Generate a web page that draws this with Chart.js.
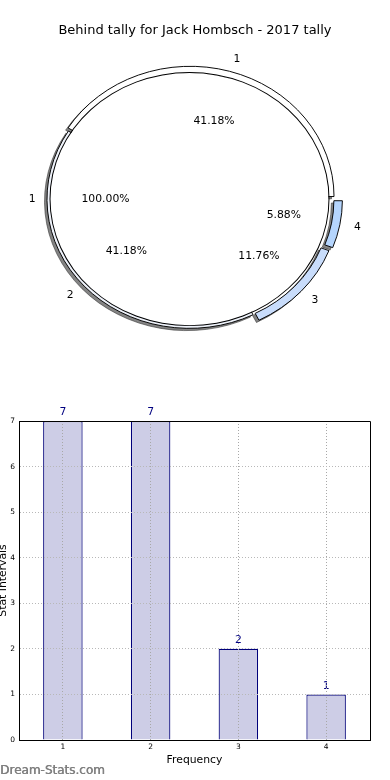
<!DOCTYPE html>
<html>
<head>
<meta charset="utf-8">
<script src="https://cdn.jsdelivr.net/npm/chart.js@4.4.1/dist/chart.umd.min.js"></script>
<style>
  body { margin: 0; background: #fff; }
  #page { position: relative; width: 390px; height: 780px; overflow: hidden; font-family: 'DejaVu Sans'; }
  #title { position: absolute; left: 0; top: 22px; width: 390px; text-align: center; font-size: 13px; line-height: 15px; color: #000; }
  #pieWrap { position: absolute; left: 0; top: 0; width: 390px; height: 370px; }
  #pieWrap canvas { position: absolute; left: 0; top: 0; }
  #barWrap { position: absolute; left: 0; top: 380px; width: 390px; height: 400px; }
  #mark { position: absolute; left: 0; top: 763px; font-size: 12px; line-height: 14px; color: #808080; text-shadow: 0.5px 0 0 #808080; }
</style>
</head>
<body>
<div id="page">
  <div id="pieWrap">
    <canvas id="ring" width="390" height="370"></canvas>
    <canvas id="pie" width="390" height="370"></canvas>
  </div>
  <div id="title">Behind tally for Jack Hombsch - 2017 tally</div>
  <div id="barWrap"><canvas id="bar" width="390" height="400"></canvas></div>
  <div id="mark">Dream-Stats.com</div>
</div>
<script>
// data
const categories = ['1', '2', '3', '4'];
const tallies = [7, 7, 2, 1];
const innerLabels = ['1'];
const innerValues = [17];
const yTicks = [0, 1, 2, 3, 4, 5, 6, 7];

Chart.defaults.font.family = "'DejaVu Sans'";
Chart.defaults.color = '#000';

const SY = 0.907; // the original pie is a bit flattened
const labelFont = "10.8px 'DejaVu Sans'";

// chart.js goes clockwise from 3 o'clock here, the original went the other way
const ringLabels = categories.slice().reverse();
const ringValues = tallies.slice().reverse();

function arcShift(arc) {
  const circ = arc.endAngle - arc.startAngle;
  return (arc.options.offset || 0) / 4 * (2 - Math.sin(Math.min(Math.PI, circ)));
}

function drawText(ctx, text, x, y, align) {
  ctx.save();
  ctx.translate(x, y);
  ctx.scale(1, 1 / SY);
  ctx.font = labelFont;
  ctx.fillStyle = '#000';
  ctx.textAlign = align;
  ctx.textBaseline = 'middle';
  ctx.fillText(text, 0, 0);
  ctx.restore();
}

function labelArcs(ctx, arcs, labels, values, R) {
  const total = values.reduce((a, b) => a + b, 0);
  arcs.forEach((arc, i) => {
    const mid = (arc.startAngle + arc.endAngle) / 2;
    const d = arcShift(arc);
    const c = Math.cos(mid), s = Math.sin(mid);
    const lx = arc.x + (1.1 * R + d) * c;
    const ly = arc.y + (1.1 * R + d) * s;
    drawText(ctx, labels[i], lx, ly, lx > arc.x ? 'left' : 'right');
    const px = arc.x + (0.6 * R + d) * c;
    const py = arc.y + (0.6 * R + d) * s;
    drawText(ctx, (values[i] / total * 100).toFixed(2) + '%', px, py, 'center');
  });
}

// squash the whole drawing vertically
const squash = {
  id: 'squash',
  beforeDraw(chart) { chart.ctx.save(); chart.ctx.scale(1, SY); },
  afterDraw(chart) { chart.ctx.restore(); }
};

// grey copies of the ring pieces, shifted down-left, under the ring
const ringShadow = {
  id: 'ringShadow',
  beforeDatasetsDraw(chart) {
    const ctx = chart.ctx;
    chart.getDatasetMeta(0).data.forEach(arc => {
      const opts = arc.options;
      arc.options = Object.assign({}, opts, { backgroundColor: 'rgba(50,50,50,0.6)', borderColor: 'rgba(50,50,50,0.6)' });
      ctx.save();
      ctx.translate(-2.5, 2.5);
      arc.draw(ctx);
      ctx.restore();
      arc.options = opts;
    });
  }
};

const pieLayout = { padding: { left: 0, right: 11, top: 69, bottom: 0 } };

const ringChart = new Chart(document.getElementById('ring'), {
  type: 'doughnut',
  data: {
    labels: ringLabels,
    datasets: [{
      data: ringValues,
      backgroundColor: ['#b5d5fd', '#c8dcfb', '#eef2fa', '#ffffff'],
      borderColor: '#000',
      borderWidth: 1,
      offset: [25.6, 25.6, 0, 10.85], // exploded pieces
      clip: false
    }]
  },
  options: {
    responsive: false,
    animation: false,
    events: [],
    rotation: 90,
    radius: 142.5,
    cutout: '94.04%',
    layout: pieLayout,
    plugins: { legend: { display: false }, tooltip: { enabled: false } }
  },
  plugins: [squash, ringShadow]
});

const pieLabels = {
  id: 'pieLabels',
  afterDatasetsDraw(chart) {
    const ctx = chart.ctx;
    labelArcs(ctx, ringChart.getDatasetMeta(0).data, ringLabels, ringValues, ringChart.options.radius);
    labelArcs(ctx, chart.getDatasetMeta(1).data, innerLabels, innerValues, chart.options.radius);
  }
};

new Chart(document.getElementById('pie'), {
  type: 'pie',
  data: {
    labels: innerLabels,
    datasets: [
      // thin black rim so the full circle gets no radial seam
      { data: innerValues, backgroundColor: '#000', borderWidth: 0, weight: 1, clip: false },
      { data: innerValues, backgroundColor: '#fff', borderWidth: 0, weight: 139, clip: false }
    ]
  },
  options: {
    responsive: false,
    animation: false,
    events: [],
    rotation: 90,
    radius: 140,
    layout: pieLayout,
    plugins: { legend: { display: false }, tooltip: { enabled: false } }
  },
  plugins: [squash, pieLabels]
});

// bar chart
const barLabels = {
  id: 'barLabels',
  afterDatasetsDraw(chart) {
    const ctx = chart.ctx;
    ctx.save();
    ctx.font = labelFont;
    ctx.fillStyle = '#000080';
    ctx.textAlign = 'center';
    ctx.textBaseline = 'bottom';
    chart.getDatasetMeta(0).data.forEach((bar, i) => {
      ctx.fillText(String(tallies[i]), bar.x, bar.y - 3);
    });
    ctx.restore();
  }
};

const frame = {
  id: 'frame',
  afterDraw(chart) {
    const { left, right, top, bottom } = chart.chartArea;
    const ctx = chart.ctx;
    ctx.save();
    ctx.setLineDash([]);
    ctx.strokeStyle = '#000';
    ctx.lineWidth = 1;
    ctx.beginPath();
    ctx.moveTo(left, top + 0.5);
    ctx.lineTo(right + 0.5, top + 0.5);
    ctx.lineTo(right + 0.5, bottom);
    ctx.stroke();
    ctx.restore();
  }
};

new Chart(document.getElementById('bar'), {
  type: 'bar',
  data: {
    labels: categories,
    datasets: [{
      data: tallies,
      backgroundColor: '#cdcde6',
      borderColor: '#00007a',
      borderWidth: 1.2,
      barPercentage: 0.45,
      categoryPercentage: 1
    }]
  },
  options: {
    responsive: false,
    animation: false,
    events: [],
    layout: { padding: { left: 0, right: 20, top: 41, bottom: 0 } },
    plugins: { legend: { display: false }, tooltip: { enabled: false } },
    scales: {
      x: {
        offset: true,
        grid: { offset: false, color: '#a8a8a8', drawTicks: false, z: 1 },
        border: { color: '#000', width: 1, dash: [1, 2], z: 2 },
        ticks: { font: { size: 7.5 }, padding: 3, color: '#000' },
        title: { display: true, text: 'Frequency', font: { size: 10.8 }, padding: { top: 0, bottom: 13.5 }, color: '#000' },
        afterFit(s) { s.height = 40; }
      },
      y: {
        min: yTicks[0],
        max: yTicks[yTicks.length - 1],
        grid: { color: '#b8b8b8', drawTicks: false, z: 1 },
        border: { color: '#000', width: 1, dash: [1, 2], z: 2 },
        ticks: { stepSize: 1, font: { size: 7.5 }, padding: 4, color: '#000' },
        title: { display: true, text: 'Stat Intervals', font: { size: 10.8 }, padding: { top: -3.5, bottom: 0 }, color: '#000' },
        afterFit(s) { s.width = 19; }
      }
    }
  },
  plugins: [barLabels, frame]
});
</script>
</body>
</html>
